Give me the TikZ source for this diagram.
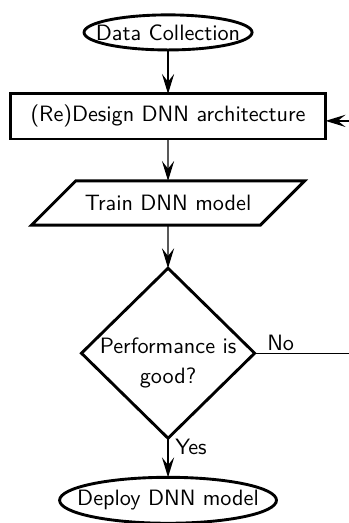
\documentclass[tikz,border=0pt]{standalone}
\usetikzlibrary{positioning,shapes.geometric,arrows.meta}

\tikzset{
  startstop/.style={ellipse, draw, line width=1.3pt, inner xsep=-10pt, inner ysep=0pt, outer sep=0pt},
  process/.style={rectangle, draw, line width=1.3pt, outer sep=0pt, minimum width=141.9pt, minimum height=20.3pt},
  io/.style={trapezium, trapezium left angle=45, trapezium right angle=135, trapezium stretches body=true,
    draw, line width=1.3pt, outer sep=0pt, inner ysep=6.43pt, minimum width=123pt},
  decision/.style={diamond, draw, line width=1.3pt, outer sep=0pt, minimum width=78pt, minimum height=76.6pt, inner sep=0pt},
  flow/.style={semithick, -{Stealth[length=9pt,width=5.5pt,inset=3.5pt]}},
}

\begin{document}
\begin{tikzpicture}[font=\sffamily]
  \useasboundingbox (0,0) rectangle (157.2pt,-235.6pt);
  \clip (0,0) rectangle (157.2pt,-235.6pt);

  % main flow
  \node [startstop, minimum width=75.7pt, minimum height=15.8pt] (collect) at (75.7pt,-14.6pt) {Data Collection};
  \node [process, below=19.8pt of collect] (design) {(Re)Design DNN architecture};
  \node [io, below=18.9pt of design] (train) {Train DNN model};
  \node [decision, below=19.4pt of train] (perf) {};
  \node [align=center, inner sep=0pt] (perf_text) at ([yshift=-4.6pt]perf.center) {Performance is\\[1.5pt]good?};
  \node [startstop, minimum width=97.7pt, minimum height=20.7pt, below=17.6pt of perf] (deploy) {Deploy DNN model};

  \draw [flow] (collect) -- (design);
  \draw [flow] (design) -- (train);
  \draw [flow] (train) -- (perf);
  \draw [flow] (perf) -- node [pos=0, anchor=north west, inner sep=1pt, xshift=2pt, yshift=1pt] {Yes} (deploy);

  % back to the design step
  \coordinate [right=50pt of perf.east] (back_corner);    % helper
  \draw [flow] (perf.east) node [anchor=south west, inner sep=1pt, xshift=4.4pt] {No}
    -- (back_corner) |- ([yshift=-2pt]design.east);
\end{tikzpicture}
\end{document}
